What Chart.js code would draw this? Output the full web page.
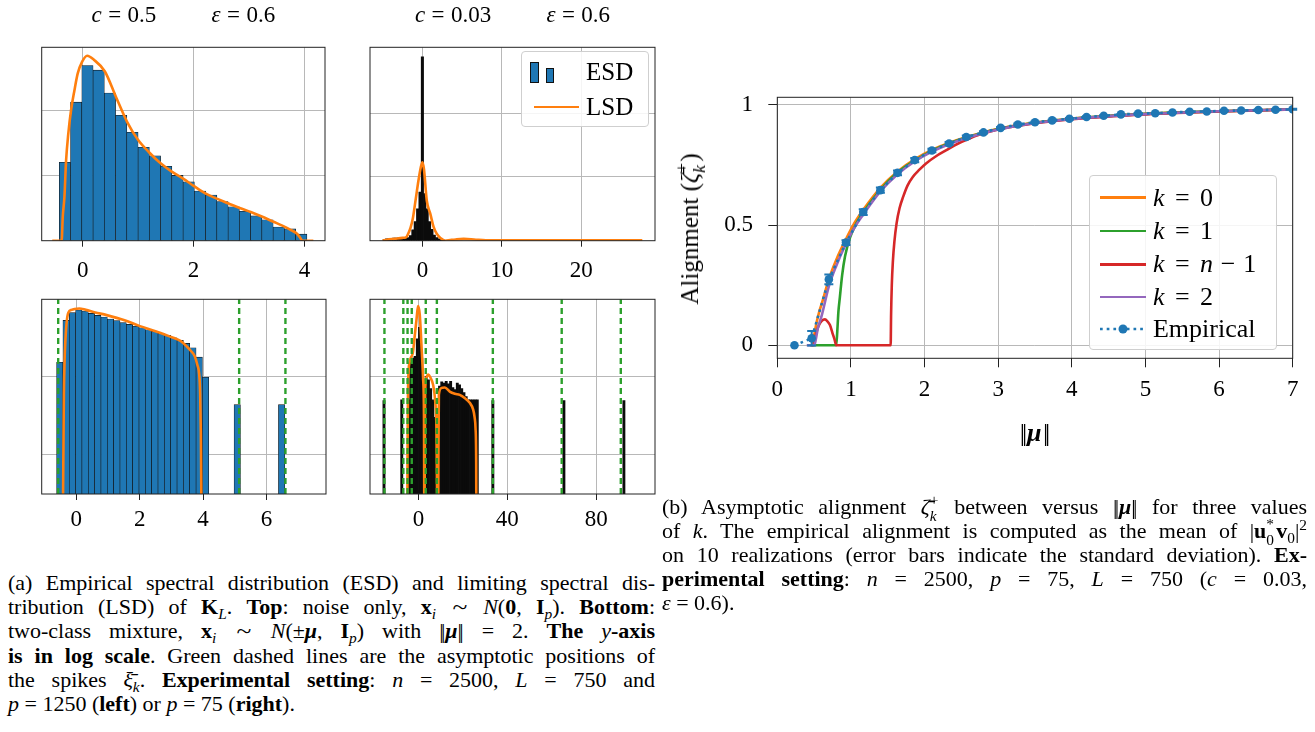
<!DOCTYPE html>
<html><head><meta charset="utf-8">
<script src="https://cdn.jsdelivr.net/npm/chart.js@4.4.1/dist/chart.umd.min.js"></script>
<style>
html,body{margin:0;padding:0;background:#fff;}
body{width:1315px;height:732px;position:relative;overflow:hidden;font-family:'Liberation Serif','Times New Roman',serif;color:#000;}
canvas{position:absolute;}
.abs{position:absolute;white-space:nowrap;}
.ctr{transform:translate(-50%,-50%);}
.eq{margin:0 0.28em;}
.leq{margin:0 0.4em;}
.lmi{margin:0 0.3em;}
.nb{letter-spacing:-0.12em;margin-right:0.12em;}
.sim{display:inline-block;transform:scale(1.25,1);margin:0 0.15em;}
.legend{position:absolute;border:1px solid #cfcfcf;border-radius:4px;background:rgba(255,255,255,0.85);box-sizing:border-box;}
.lrow{position:absolute;display:flex;align-items:center;transform:translateY(-50%);white-space:nowrap;}
.lsample{display:inline-block;width:46px;height:2.7px;margin-right:7px;}
.cap{position:absolute;font-size:22px;line-height:24.1px;}
.cap > div{white-space:nowrap;text-align:justify;text-align-last:justify;height:24.1px;}
.cap > div.last{text-align-last:left;}
sub,sup{font-size:0.7em;line-height:0;}
.ss{display:inline-block;position:relative;width:0.45em;height:0;}
.ss > span{position:absolute;left:0;font-size:0.7em;line-height:1;}
.ss > .up{bottom:0.42em;}
.ss > .dn{top:-0.4em;}
</style></head>
<body>
<canvas id="tl" width="345" height="290" style="left:0;top:0"></canvas>
<canvas id="tr" width="320" height="290" style="left:345px;top:0"></canvas>
<canvas id="bl" width="345" height="250" style="left:0;top:290px"></canvas>
<canvas id="br" width="320" height="250" style="left:345px;top:290px"></canvas>
<canvas id="rc" width="655" height="420" style="left:660px;top:60px"></canvas>

<div class="abs ctr" style="left:183.4px;top:15.3px;font-size:23px"><i>c</i><span class="eq">=</span>0.5<span style="display:inline-block;width:2.4em"></span><i>ε</i><span class="eq">=</span>0.6</div>
<div class="abs ctr" style="left:512.5px;top:15.3px;font-size:23px"><i>c</i><span class="eq">=</span>0.03<span style="display:inline-block;width:2.4em"></span><i>ε</i><span class="eq">=</span>0.6</div>

<div class="legend" style="left:520.7px;top:50.7px;width:128.6px;height:76.6px;font-size:25px">
  <div class="lrow" style="left:8.3px;top:20.3px">
    <span style="display:inline-flex;align-items:flex-end;height:22px;width:48px;margin-right:8px">
      <span style="display:inline-block;width:8.7px;height:21.4px;background:#1f77b4;border:1px solid #111;box-sizing:border-box"></span>
      <span style="display:inline-block;width:8.3px;height:15.4px;background:#1f77b4;border:1px solid #111;box-sizing:border-box;margin-left:7.3px"></span>
    </span><span>ESD</span></div>
  <div class="lrow" style="left:12.3px;top:55.3px"><span class="lsample" style="width:45px;background:#ff7f0e;margin-right:7px"></span><span>LSD</span></div>
</div>

<div class="legend" style="left:1089.3px;top:175px;width:187.4px;height:175px;font-size:26px">
  <div class="lrow" style="left:9.7px;top:21.7px"><span class="lsample" style="background:#ff7f0e"></span><span><i>k</i><span class="leq">=</span>0</span></div>
  <div class="lrow" style="left:9.7px;top:55px"><span class="lsample" style="background:#2ca02c"></span><span><i>k</i><span class="leq">=</span>1</span></div>
  <div class="lrow" style="left:9.7px;top:88.3px"><span class="lsample" style="background:#d62728"></span><span><i>k</i><span class="leq">=</span><i>n</i><span class="lmi">−</span>1</span></div>
  <div class="lrow" style="left:9.7px;top:121px"><span class="lsample" style="background:#9467bd"></span><span><i>k</i><span class="leq">=</span>2</span></div>
  <div class="lrow" style="left:9.7px;top:153.3px"><svg width="46" height="12" style="margin-right:7px"><line x1="0" y1="6" x2="46" y2="6" stroke="#1f77b4" stroke-width="2.7" stroke-dasharray="2.7 4"/><circle cx="23" cy="6" r="4.5" fill="#1f77b4"/></svg><span>Empirical</span></div>
</div>

<div class="abs" style="left:690px;top:229px;transform:translate(-50%,-50%) rotate(-90deg);font-size:25px">Alignment (<i>ζ̄</i><span class="ss"><span class="up">+</span><span class="dn"><i>k</i></span></span>)</div>
<div class="abs ctr" style="left:1035px;top:433px;font-size:26px"><span class="nb">||</span><b><i>μ</i></b><span class="nb" style="margin-left:0.05em">||</span></div>

<div class="cap" style="left:8px;top:571.3px;width:647px">
<div>(a) Empirical spectral distribution (ESD) and limiting spectral dis-</div>
<div>tribution (LSD) of <b>K</b><sub><i>L</i></sub>. <b>Top</b>: noise only, <b>x</b><sub><i>i</i></sub> <span class="sim">~</span> <i>N</i>(<b>0</b>, <b>I</b><sub><i>p</i></sub>). <b>Bottom</b>:</div>
<div>two-class mixture, <b>x</b><sub><i>i</i></sub> <span class="sim">~</span> <i>N</i>(±<b><i>μ</i></b>, <b>I</b><sub><i>p</i></sub>) with <span class="nb">||</span><b><i>μ</i></b><span class="nb">||</span> = 2. <b>The</b> <i>y</i><b>-axis</b></div>
<div><b>is in log scale</b>. Green dashed lines are the asymptotic positions of</div>
<div>the spikes <i>ξ̄</i><sub><i>k</i></sub>. <b>Experimental setting</b>: <i>n</i> = 2500, <i>L</i> = 750 and</div>
<div class="last"><i>p</i> = 1250 (<b>left</b>) or <i>p</i> = 75 (<b>right</b>).</div>
</div>

<div class="cap" style="left:662px;top:495px;width:645px">
<div>(b) Asymptotic alignment <i>ζ̄</i><span class="ss"><span class="up">+</span><span class="dn"><i>k</i></span></span> between versus <span class="nb">||</span><b><i>μ</i></b><span class="nb">||</span> for three values</div>
<div>of <i>k</i>. The empirical alignment is computed as the mean of |<b>u</b><span class="ss"><span class="up">*</span><span class="dn">0</span></span><b>v</b><sub>0</sub>|<sup>2</sup></div>
<div>on 10 realizations (error bars indicate the standard deviation). <b>Ex-</b></div>
<div><b>perimental setting</b>: <i>n</i> = 2500, <i>p</i> = 75, <i>L</i> = 750 (<i>c</i> = 0.03,</div>
<div class="last"><i>ε</i> = 0.6).</div>
</div>

<script>
// ================= DATA =================
// Top-left panel: c = 0.5, noise only (linear density)
const tlBinCenters = [-0.321,-0.118,0.085,0.288,0.491,0.694,0.897,1.100,1.303,1.506,1.709,1.912,2.115,2.318,2.521,2.724,2.927,3.130,3.333,3.536,3.739,3.942];
const tlDensity = [0.120,0.212,0.268,0.261,0.226,0.192,0.166,0.143,0.130,0.114,0.100,0.090,0.076,0.070,0.060,0.052,0.045,0.038,0.032,0.021,0.018,0.010];
const tlLsdX = [-0.55,-0.38,-0.36,-0.33,-0.30,-0.26,-0.21,-0.15,-0.09,-0.01,0.08,0.20,0.40,0.60,0.80,1.00,1.20,1.41,1.60,1.81,2.00,2.22,2.43,2.63,2.83,3.03,3.23,3.44,3.60,3.74,3.86,3.92,3.96,4.16];
const tlLsdY = [0,0,0.037,0.067,0.123,0.164,0.200,0.230,0.256,0.274,0.283,0.277,0.259,0.220,0.182,0.154,0.135,0.118,0.106,0.095,0.084,0.072,0.064,0.057,0.050,0.044,0.037,0.029,0.023,0.017,0.011,0.005,0,0];
const tlXTicks = [0,2,4];
const tlYGrid = [0.1,0.2];

// Top-right panel: c = 0.03, noise only
const trBinCenters = [-4.8,-4.5,-4.2,-3.9,-3.6,-3.3,-3.0,-2.7,-2.4,-2.1,-1.8,-1.5,-1.2,-0.9,-0.6,-0.3,0,0.3,0.6,0.9,1.2,1.5,1.8,2.1,2.4,2.7];
const trDensity = [0.02,0.03,0.03,0.03,0.04,0.04,0.04,0.04,0.04,0.04,0.05,0.08,0.17,0.30,0.50,0.76,2.88,0.74,0.50,0.30,0.18,0.09,0.05,0.03,0.02,0.01];
const trLsdX = [-5.0,-4.5,-3.5,-2.5,-2.1,-1.9,-1.5,-1.2,-0.9,-0.5,-0.2,0,0.2,0.55,1.0,1.4,1.8,2.3,2.86,3.5,4.2,5.2,6.5,8.0,12,20,27.7];
const trLsdY = [0,0.015,0.03,0.045,0.05,0.08,0.2,0.35,0.6,0.94,1.15,1.23,1.12,0.63,0.42,0.22,0.11,0.04,0,0.01,0.02,0.028,0.02,0.008,0.005,0.005,0.005];
const trXTicks = [0,10,20];
const trYGrid = [1,2];

// Bottom-left panel: c = 0.5, two-class mixture (log density)
const blBinCenters = [-0.52,-0.32,-0.12,0.08,0.28,0.48,0.68,0.88,1.08,1.28,1.48,1.68,1.88,2.08,2.28,2.48,2.68,2.88,3.08,3.28,3.48,3.68,3.88,4.08,5.08,6.48];
const blDensity = [0.151,0.514,0.645,0.697,0.676,0.632,0.596,0.567,0.535,0.510,0.481,0.457,0.435,0.415,0.391,0.372,0.351,0.331,0.309,0.286,0.262,0.231,0.175,0.097,0.0436,0.0436];
const blLsdX = [-0.42,-0.40,-0.39,-0.37,-0.34,-0.30,-0.25,-0.15,-0.05,0.095,0.30,0.60,0.96,1.50,2.01,2.50,3.06,3.30,3.48,3.62,3.74,3.82,3.88,3.91,3.93,3.95];
const blLsdY = [0.002,0.02,0.058,0.15,0.30,0.50,0.645,0.70,0.72,0.73,0.70,0.65,0.60,0.52,0.435,0.375,0.309,0.28,0.241,0.21,0.18,0.14,0.105,0.06,0.02,0.002];
const blSpikes = [-0.57,5.14,6.60];
const blXTicks = [0,2,4,6];

// Bottom-right panel: c = 0.03, two-class mixture (log density)
const brBinCenters = [-15.5,-7.5,-4.5,-3.5,-2.5,-1.5,-0.5,0.5,1.5,2.5,3.5,4.5,5.5,6.5,7.5,8.5,9.5,10.5,11.5,12.5,13.5,14.5,15.5,16.5,17.5,18.5,19.5,20.5,21.5,22.5,23.5,24.5,25.5,26.5,33.5,65.5,92.5];
const brDensity = [0.049,0.050,0.05,0.15,0.17,0.18,0.30,0.42,0.17,0.09,0.10,0.09,0.07,0.05,0.03,0.01,0.075,0.085,0.082,0.086,0.080,0.086,0.072,0.068,0.082,0.078,0.070,0.062,0.055,0.050,0.050,0.050,0.050,0.050,0.049,0.049,0.049];
const brLsdX = [-5.0,-4.9,-4.7,-4.4,-4.0,-3.5,-2.5,-1.6,-0.8,-0.15,0.6,1.35,2.1,2.5,2.65,2.75,3.0,3.5,4.5,5.5,6.6,7.5,8.1,8.4,8.5,8.9,9.0,9.2,10.4,11.9,14.1,16.4,18.6,20.8,23.1,24.6,25.3,25.7,26.0,26.1];
const brLsdY = [0.001,0.01,0.06,0.12,0.15,0.17,0.20,0.34,0.55,0.78,0.61,0.254,0.094,0.03,0.002,0.002,0.06,0.095,0.105,0.095,0.078,0.05,0.022,0.003,0.001,0.001,0.01,0.058,0.071,0.072,0.064,0.060,0.058,0.053,0.046,0.038,0.03,0.022,0.008,0.001];
const brSpikes = [-15.3,-6.8,-4.9,-3.0,3.3,8.3,33.5,64.5,91.1];
const brXTicks = [0,40,80];
const logYGrid = [0.01,0.1];

// Right chart: alignment vs ||mu||
const empX = [0.233,0.467,0.700,0.933,1.167,1.400,1.633,1.867,2.100,2.333,2.567,2.800,3.033,3.267,3.500,3.733,3.967,4.200,4.433,4.667,4.900,5.133,5.367,5.600,5.833,6.067,6.300,6.533,6.767,7.000];
const empY = [0,0.029,0.274,0.427,0.554,0.645,0.717,0.770,0.810,0.839,0.866,0.885,0.904,0.918,0.927,0.935,0.942,0.949,0.954,0.960,0.963,0.965,0.968,0.971,0.972,0.975,0.976,0.978,0.979,0.981];
const empStd = [0,0.03,0.02,0.01,0.012,0.011,0.01,0.009,0.007,0.006,0.006,0.005,0.004,0.004,0.003,0.003,0.003,0.003,0.002,0.002,0.002,0.002,0.002,0.002,0.002,0.002,0.002,0.002,0.002,0.002];
const k0X = [0.45,0.48,0.50,0.53,0.57,0.62,0.70,0.80,0.93,1.05,1.17,1.40,1.63,1.87,2.10,2.33,2.57,2.80,3.03,3.50,4.00,4.50,5.00,5.50,6.00,6.50,7.00];
const k0Y = [0,0,0.04,0.09,0.14,0.19,0.275,0.355,0.44,0.51,0.565,0.655,0.722,0.774,0.812,0.841,0.866,0.885,0.902,0.926,0.942,0.953,0.962,0.968,0.973,0.977,0.981];
const k1X = [0.45,0.80,0.815,0.83,0.85,0.88,0.92,0.99,1.08,1.17,1.40,1.63,1.87,2.10,2.33,2.57,2.80,3.03,3.50,4.00,5.00,6.00,7.00];
const k1Y = [0,0,0.06,0.14,0.20,0.29,0.37,0.45,0.51,0.553,0.645,0.717,0.768,0.808,0.839,0.864,0.884,0.901,0.925,0.942,0.962,0.973,0.981];
const kn1X = [0.47,0.49,0.52,0.557,0.60,0.647,0.68,0.715,0.75,0.78,0.80,1.54,1.545,1.555,1.57,1.59,1.62,1.66,1.71,1.77,1.84,1.93,2.02,2.15,2.29,2.45,2.61,2.75,2.88,3.03,3.50,4.00,5.00,6.00,7.00];
const kn1Y = [0,0,0.04,0.078,0.10,0.108,0.10,0.084,0.05,0.022,0,0,0.12,0.25,0.35,0.43,0.507,0.57,0.618,0.665,0.70,0.73,0.756,0.785,0.81,0.838,0.86,0.876,0.888,0.899,0.923,0.940,0.960,0.972,0.980];
const k2X = [0.40,0.50,0.52,0.55,0.60,0.70,0.80,0.93,1.05,1.17,1.40,1.63,1.87,2.10,2.33,2.57,2.80,3.03,3.50,4.00,5.00,6.00,7.00];
const k2Y = [0,0,0.02,0.07,0.12,0.245,0.33,0.42,0.49,0.545,0.640,0.710,0.765,0.805,0.836,0.862,0.882,0.899,0.924,0.941,0.961,0.973,0.981];
const rcXTicks = [0,1,2,3,4,5,6,7];
const rcYTicks = [0,0.5,1];

// ================= STYLE / HELPERS =================
const SERIF = "'Liberation Serif', serif";
Chart.defaults.font.family = SERIF;
Chart.defaults.color = '#000';
const TICKFONT = { family: SERIF, size: 23 };
const GRID = '#b8b8b8', SPINE = '#222';
const BLUE='#1f77b4', ORANGE='#ff7f0e', GREEN='#2ca02c', RED='#d62728', PURPLE='#9467bd';

const xy = (xs, ys) => xs.map((x, i) => ({x, y: ys[i]}));
const vlines = (xs, y0, y1) => { const out = []; xs.forEach(x => { out.push({x, y: y0}, {x, y: y1}, {x, y: null}); }); return out; };
const fmt = v => String(v);

const framePlugin = {
  id: 'frame',
  afterDraw(chart) {
    const a = chart.chartArea, c = chart.ctx;
    c.save(); c.strokeStyle = SPINE; c.lineWidth = 1;
    c.strokeRect(a.left, a.top, a.right - a.left, a.bottom - a.top);
    c.restore();
  }
};

function histPanel(id, o) {
  return new Chart(document.getElementById(id), {
    type: 'bar',
    data: { datasets: o.datasets },
    options: {
      responsive: false, animation: false, devicePixelRatio: 1,
      layout: { padding: o.padding },
      plugins: { legend: { display: false }, tooltip: { enabled: false } },
      scales: {
        x: { type: 'linear', min: o.xmin, max: o.xmax, offset: false,
          afterBuildTicks: s => { s.ticks = o.xticks.map(v => ({value: v})); },
          afterFit: s => { s.height = o.xH; },
          grid: { color: GRID, lineWidth: 1, offset: false, drawTicks: true, tickLength: 6, tickColor: SPINE, tickWidth: 1 },
          border: { display: false },
          ticks: { font: TICKFONT, color: '#000', padding: o.tickPad, maxRotation: 0, autoSkip: false, callback: fmt } },
        y: { type: o.ylog ? 'logarithmic' : 'linear', min: o.ymin, max: o.ymax,
          afterBuildTicks: s => { s.ticks = o.ygrid.map(v => ({value: v})); },
          afterFit: s => { s.width = 0; },
          grid: { color: GRID, lineWidth: 1, drawTicks: false },
          border: { display: false },
          ticks: { display: false } }
      }
    },
    plugins: [framePlugin]
  });
}

const barDs = (xs, ys, color, bw, edge) => ({ type: 'bar', data: xy(xs, ys), backgroundColor: color, borderColor: edge, borderWidth: bw, barPercentage: 1, categoryPercentage: 1, order: 3 });
const lsdDs = (xs, ys) => ({ type: 'line', data: xy(xs, ys), borderColor: ORANGE, borderWidth: 2.6, pointRadius: 0, cubicInterpolationMode: 'monotone', fill: false, order: 1, borderJoinStyle: 'round' });
const spikeDs = (xs, y0, y1) => ({ type: 'line', data: vlines(xs, y0, y1), borderColor: GREEN, borderWidth: 2.4, borderDash: [6, 4], pointRadius: 0, spanGaps: false, fill: false, order: 0 });

const LOGMIN = 0.00318, LOGMAX = 0.954;

histPanel('tl', { padding: {left: 41.7, top: 47.3, right: 20, bottom: 0}, xH: 49.3, tickPad: 10.8,
  xmin: -0.74, xmax: 4.37, xticks: tlXTicks, ymin: 0, ymax: 0.296, ygrid: tlYGrid, ylog: false,
  datasets: [ barDs(tlBinCenters, tlDensity, BLUE, 0.6, '#111'), lsdDs(tlLsdX, tlLsdY) ] });

histPanel('tr', { padding: {left: 25, top: 47.3, right: 10, bottom: 0}, xH: 49.3, tickPad: 10.8,
  xmin: -6.6, xmax: 29.3, xticks: trXTicks, ymin: 0, ymax: 3.03, ygrid: trYGrid, ylog: false,
  datasets: [ barDs(trBinCenters, trDensity, '#0b0b0b', 0, '#000'), lsdDs(trLsdX, trLsdY) ] });

histPanel('bl', { padding: {left: 41.7, top: 9.3, right: 19, bottom: 0}, xH: 46, tickPad: 5.9,
  xmin: -1.09, xmax: 7.88, xticks: blXTicks, ymin: LOGMIN, ymax: LOGMAX, ygrid: logYGrid, ylog: true,
  datasets: [ barDs(blBinCenters, blDensity, BLUE, 0.6, '#111'), lsdDs(blLsdX, blLsdY), spikeDs(blSpikes, LOGMIN, LOGMAX) ] });

histPanel('br', { padding: {left: 25, top: 9.3, right: 10, bottom: 0}, xH: 46, tickPad: 5.9,
  xmin: -21.8, xmax: 106.5, xticks: brXTicks, ymin: LOGMIN, ymax: LOGMAX, ygrid: logYGrid, ylog: true,
  datasets: [ barDs(brBinCenters, brDensity, '#0b0b0b', 0, '#000'), lsdDs(brLsdX, brLsdY), spikeDs(brSpikes, LOGMIN, LOGMAX) ] });

// error bars for the empirical series
const errorBarPlugin = {
  id: 'errorBars',
  afterDatasetsDraw(chart) {
    const xs = chart.scales.x, ys = chart.scales.y, c = chart.ctx;
    c.save(); c.strokeStyle = BLUE; c.lineWidth = 2;
    empX.forEach((x, i) => {
      const s = empStd[i]; if (!s) return;
      const px = xs.getPixelForValue(x);
      const top = ys.getPixelForValue(empY[i] + s), bot = ys.getPixelForValue(empY[i] - s);
      c.beginPath();
      c.moveTo(px, top); c.lineTo(px, bot);
      c.moveTo(px - 4.5, top); c.lineTo(px + 4.5, top);
      c.moveTo(px - 4.5, bot); c.lineTo(px + 4.5, bot);
      c.stroke();
    });
    c.restore();
  }
};

const theoDs = (xs, ys, color, order) => ({ data: xy(xs, ys), borderColor: color, backgroundColor: color, borderWidth: 2.6, pointRadius: 0, cubicInterpolationMode: 'monotone', fill: false, order, borderJoinStyle: 'round' });

new Chart(document.getElementById('rc'), {
  type: 'line',
  data: { datasets: [
    { data: xy(empX, empY), borderColor: BLUE, backgroundColor: BLUE, borderWidth: 2.6, borderDash: [2.6, 4], pointRadius: 4.3, pointBackgroundColor: BLUE, pointBorderWidth: 0, fill: false, order: 0 },
    theoDs(k2X, k2Y, PURPLE, 1),
    theoDs(kn1X, kn1Y, RED, 2),
    theoDs(k1X, k1Y, GREEN, 3),
    theoDs(k0X, k0Y, ORANGE, 4)
  ] },
  options: {
    responsive: false, animation: false, devicePixelRatio: 1,
    layout: { padding: { left: 0, top: 37.3, right: 22.3, bottom: 0 } },
    plugins: { legend: { display: false }, tooltip: { enabled: false } },
    scales: {
      x: { type: 'linear', min: 0, max: 7,
        afterBuildTicks: s => { s.ticks = rcXTicks.map(v => ({value: v})); },
        afterFit: s => { s.height = 121.7; },
        grid: { color: GRID, lineWidth: 1, tickLength: 9, tickColor: SPINE, tickWidth: 1 },
        border: { display: false },
        ticks: { font: TICKFONT, color: '#000', padding: 8.9, maxRotation: 0, autoSkip: false, callback: fmt } },
      y: { type: 'linear', min: -0.054, max: 1.031,
        afterBuildTicks: s => { s.ticks = rcYTicks.map(v => ({value: v})); },
        afterFit: s => { s.width = 117.3; },
        grid: { color: GRID, lineWidth: 1, tickLength: 9, tickColor: SPINE, tickWidth: 1 },
        border: { display: false },
        ticks: { font: TICKFONT, color: '#000', padding: 15.3, callback: fmt } }
    }
  },
  plugins: [framePlugin, errorBarPlugin]
});
</script>
</body></html>
